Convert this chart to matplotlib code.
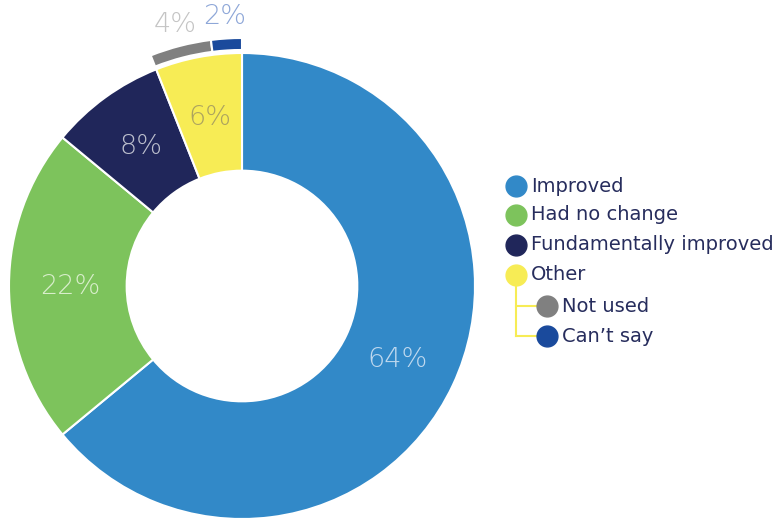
import matplotlib
matplotlib.use('Agg')
from matplotlib import pyplot as plt
import numpy as np

# main ring
labels = ['Improved', 'Had no change', 'Fundamentally improved', 'Other']
values = [64, 22, 8, 6]
colors = ['#3289c8', '#7dc35c', '#20265a', '#f7ec55']
label_colors = ['#c0d9ef', '#d8eecb', '#bcbfcd', '#aca35f']

# breakdown of "Other", drawn as a thin outer arc
sub_labels = ['Not used', 'Can\u2019t say']
sub_values = [4, 2]
sub_colors = ['#808080', '#1a4a9c']
sub_label_colors = ['#c4c4c4', '#8ea7d8']

W, H = 781, 521
fig = plt.figure(figsize=(W / 100, H / 100), dpi=100)

# pie axes in pixel units, center at (242, 286) from the top-left
cx, cy, half = 242, 286, 260
ax = fig.add_axes([(cx - half) / W, (H - cy - half) / H, 2 * half / W, 2 * half / H])

R = 233
wedges, _ = ax.pie(values, colors=colors, radius=R, startangle=90, counterclock=False,
                   wedgeprops=dict(width=R * 0.505, edgecolor='white', linewidth=1.5))

pct_font = dict(fontsize=19.5, family='DejaVu Sans', fontweight='light',
                ha='center', va='center')
total = sum(values)
start = 0
for v, c in zip(values, label_colors):
    mid = (start + v / 2) / total * 360
    ang = np.deg2rad(90 - mid)
    ax.text(172 * np.cos(ang), 172 * np.sin(ang), '%d%%' % v, color=c, **pct_font)
    start += v

# outer arc for the "Other" breakdown
rest = total - sum(sub_values)
w2, _ = ax.pie([rest] + sub_values, colors=['none'] + sub_colors, radius=248,
               startangle=90, counterclock=False,
               wedgeprops=dict(width=12, edgecolor='white', linewidth=1.5))
w2[0].set_visible(False)
start = rest
for v, c in zip(sub_values, sub_label_colors):
    mid = (start + v / 2) / total * 360
    ang = np.deg2rad(90 - mid)
    ax.text(270 * np.cos(ang), 270 * np.sin(ang), '%d%%' % v, color=c, **pct_font)
    start += v

# pie() resets the limits, so set them afterwards
ax.set_xlim(-half, half)
ax.set_ylim(-half, half)
ax.set_aspect('equal')
ax.axis('off')

# legend, in pixel coordinates
lg = fig.add_axes([0, 0, 1, 1])
lg.set_xlim(0, W)
lg.set_ylim(H, 0)
lg.axis('off')
text_color = '#272d5d'
ys = [186, 215, 245, 275]
for y, lab, c in zip(ys, labels, colors):
    lg.plot(516, y, 'o', ms=15, color=c)
    lg.text(531, y, lab, color=text_color, fontsize=14, family='DejaVu Sans',
            va='center', ha='left')
sub_ys = [306, 336]
lg.plot([516, 516], [ys[-1], sub_ys[-1]], color=colors[-1], lw=1.5, zorder=1)
for y, lab, c in zip(sub_ys, sub_labels, sub_colors):
    lg.plot([516, 545], [y, y], color=colors[-1], lw=1.5, zorder=1)
    lg.plot(547, y, 'o', ms=15, color=c, zorder=2)
    lg.text(562, y, lab, color=text_color, fontsize=14, family='DejaVu Sans',
            va='center', ha='left')

fig.savefig('out.png', dpi=100)
